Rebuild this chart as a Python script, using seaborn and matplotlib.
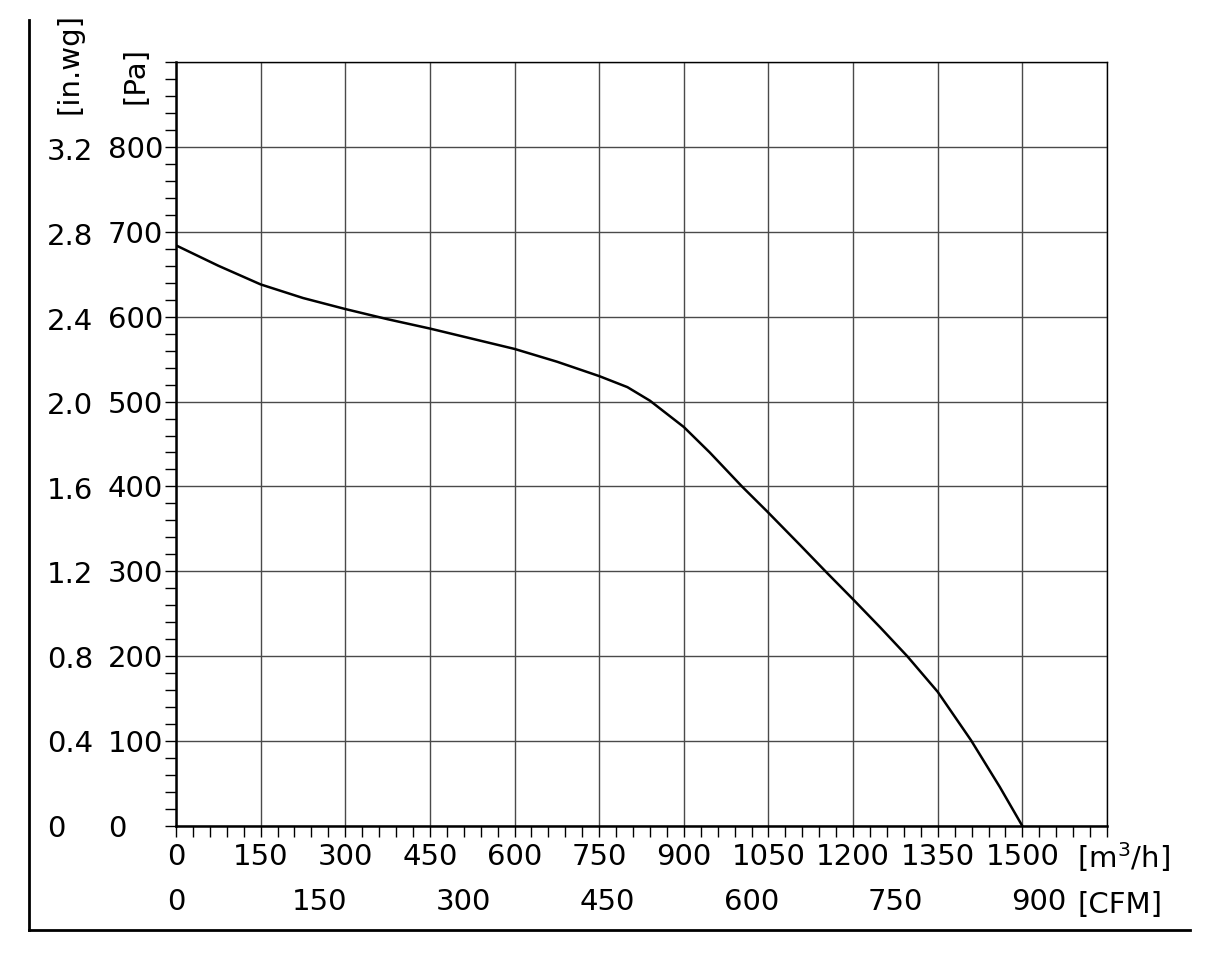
import numpy as np
import pandas as pd
import matplotlib
matplotlib.use("Agg")
import matplotlib.pyplot as plt
from matplotlib.ticker import MultipleLocator
import seaborn as sns

# fan curve
flow_m3h = [0, 75, 150, 225, 300, 375, 450, 525, 600, 675, 750, 800, 840,
            900, 946, 1003, 1047, 1106, 1154, 1200, 1248, 1296, 1350, 1409, 1460, 1500]
pressure_pa = [684, 660, 638, 622, 609, 597, 586, 574, 562, 547, 530, 517, 501,
               470, 440, 400, 371, 331, 298, 267, 234, 200, 158, 101, 46, 0]

x_ticks_m3h = [0, 150, 300, 450, 600, 750, 900, 1050, 1200, 1350, 1500, 1650]
y_ticks_pa = [0, 100, 200, 300, 400, 500, 600, 700, 800, 900]
cfm_ticks = [0, 150, 300, 450, 600, 750, 900]
inwg_ticks = [0, 0.4, 0.8, 1.2, 1.6, 2.0, 2.4, 2.8, 3.2, 3.6]

M3H_PER_CFM = 1.699
PA_PER_INWG = 249.09

df = pd.DataFrame({"flow": flow_m3h, "pressure": pressure_pa})

sns.set_style("white")
plt.rcParams["font.family"] = ["DejaVu Sans"]
plt.rcParams["text.color"] = "black"
plt.rcParams["xtick.labelcolor"] = "black"
plt.rcParams["ytick.labelcolor"] = "black"
plt.rcParams["xtick.color"] = "black"
plt.rcParams["ytick.color"] = "black"
FS = 21

W, H = 1213, 955
fig = plt.figure(figsize=(W / 100, H / 100), dpi=100)

# main plot box in pixels
L, R, T, B = 176, 1107, 62, 826
xmax, ymax = 1650, 900
sx = (R - L) / xmax
sy = (B - T) / ymax

# outer frame (CFM / in.wg)
oL, oR, oT, oB = 29, 1190, 20, 930
ax_out = fig.add_axes([oL / W, 1 - oB / H, (oR - oL) / W, (oB - oT) / H])
ax_out.set_facecolor("none")
ax_out.set_xlim((oL - L) / sx, (oR - L) / sx)
ax_out.set_ylim((B - oB) / sy, (B - oT) / sy)
for s in ["top", "right"]:
    ax_out.spines[s].set_visible(False)
for s in ["left", "bottom"]:
    ax_out.spines[s].set_color("black")
    ax_out.spines[s].set_linewidth(2)
ax_out.set_xticks([c * M3H_PER_CFM for c in cfm_ticks])
ax_out.set_xticklabels([str(c) for c in cfm_ticks])
ax_out.set_yticks([v * PA_PER_INWG for v in inwg_ticks])
ax_out.set_yticklabels(["0" if v == 0 else f"{v:.1f}" for v in inwg_ticks[:-1]] + [""])
ax_out.tick_params(axis="x", direction="in", length=5, width=1, pad=-30, labelsize=FS)
ax_out.tick_params(axis="y", direction="in", length=5, width=1, pad=-13, labelsize=FS)
for lbl in ax_out.get_yticklabels():
    lbl.set_horizontalalignment("left")
ax_out.grid(False)

# main axes (m3/h / Pa)
ax = fig.add_axes([L / W, 1 - B / H, (R - L) / W, (B - T) / H])
ax.set_facecolor("white")
sns.lineplot(data=df, x="flow", y="pressure", color="black", linewidth=1.8,
             ax=ax, zorder=5)
ax.set_xlim(0, xmax)
ax.set_ylim(0, ymax)
ax.set_xticks(x_ticks_m3h)
ax.set_xticklabels([str(v) for v in x_ticks_m3h[:-1]] + [""])
ax.set_yticks(y_ticks_pa)
ax.set_yticklabels([str(v) for v in y_ticks_pa[:-1]] + [""])
ax.xaxis.set_minor_locator(MultipleLocator(30))
ax.yaxis.set_minor_locator(MultipleLocator(20))
ax.tick_params(which="both", axis="both", direction="out", length=8, width=1,
               color="black", bottom=True, left=True, labelsize=FS)
ax.tick_params(axis="x", pad=4)
ax.tick_params(axis="y", pad=41)
for lbl in ax.get_yticklabels():
    lbl.set_horizontalalignment("left")
ax.grid(True, which="major", color="#4a4a4a", linewidth=1)
ax.set_xlabel("")
ax.set_ylabel("")
for s in ["left", "bottom"]:
    ax.spines[s].set_color("black")
    ax.spines[s].set_linewidth(1.8)
for s in ["top", "right"]:
    ax.spines[s].set_color("black")
    ax.spines[s].set_linewidth(1)

# unit labels
fig.text(1077 / W, 1 - 857 / H, r"[m$^3$/h]", fontsize=FS, ha="left", va="center")
fig.text(1077 / W, 1 - 905 / H, "[CFM]", fontsize=FS, ha="left", va="center")
fig.text(136 / W, 1 - 76 / H, "[Pa]", fontsize=FS, rotation=90, ha="center", va="center")
fig.text(69 / W, 1 - 64 / H, "[in.wg]", fontsize=FS, rotation=90, ha="center", va="center")

fig.savefig("out.png", dpi=100, facecolor="white")
